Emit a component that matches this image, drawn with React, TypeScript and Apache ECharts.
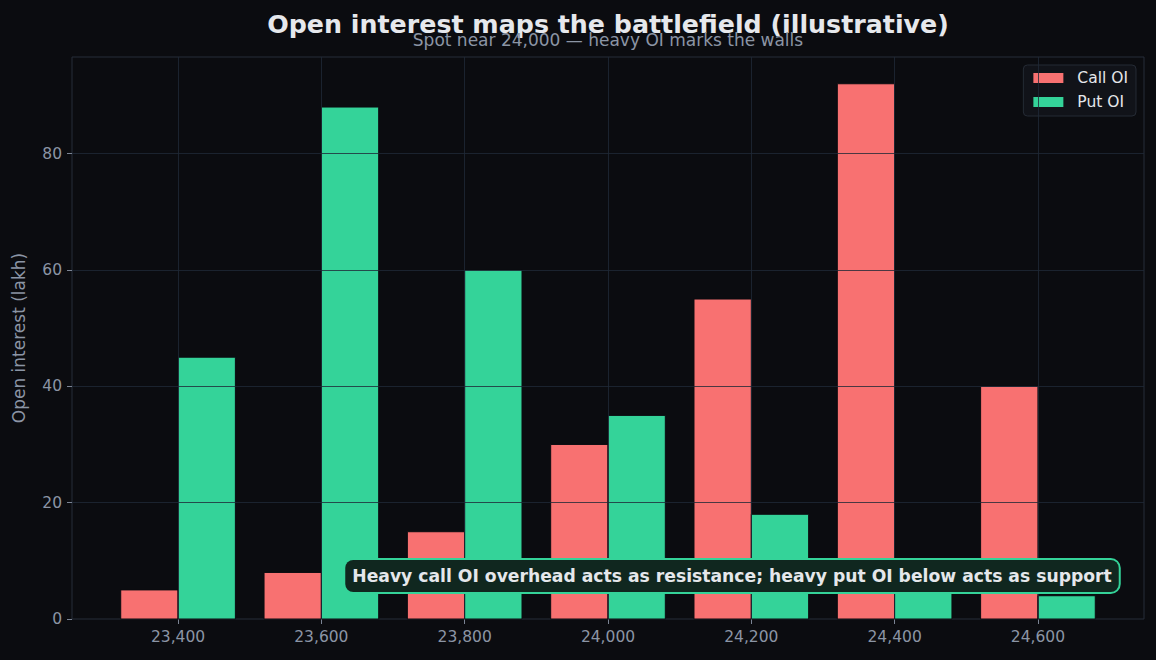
import React, { useEffect, useRef } from "react";
import * as echarts from "echarts";

const strikes = [23400, 23600, 23800, 24000, 24200, 24400, 24600];
const callOI = [5, 8, 15, 30, 55, 92, 40];
const putOI = [45, 88, 60, 35, 18, 8, 4];
const yTicks = [0, 20, 40, 60, 80];

const TITLE = "Open interest maps the battlefield (illustrative)";
const SUBTITLE = "Spot near 24,000 \u2014 heavy OI marks the walls";
const NOTE = "Heavy call OI overhead acts as resistance; heavy put OI below acts as support";

const BG = "#0b0c10";
const CALL = "#f87171";
const PUT = "#34d399";
const FONT = "DejaVu Sans";
const GRIDC = "rgba(31,41,55,0.8)";

export default function App() {
  const ref = useRef<HTMLDivElement>(null);
  useEffect(() => {
    document.body.style.margin = "0";
    document.body.style.background = BG;
    const chart = echarts.init(ref.current!, null, { renderer: "svg" });
    const barSeries = (name: string, vals: number[], color: string, side: number) => ({
      name,
      type: "custom",
      z: 2,
      itemStyle: { color },
      data: strikes.map((s, i) => [s, vals[i]]),
      renderItem: (params: any, api: any) => {
        const x = api.value(0);
        const v = api.value(1);
        const a = api.coord([side < 0 ? x - 80 : x, 0]);
        const b = api.coord([side < 0 ? x : x + 80, v]);
        return {
          type: "rect",
          shape: { x: a[0], y: b[1], width: b[0] - a[0], height: a[1] - b[1] },
          style: { fill: color, stroke: BG, lineWidth: 1 },
        };
      },
    });
    chart.setOption({
      animation: false,
      backgroundColor: BG,
      textStyle: { fontFamily: FONT },
      grid: {
        left: 72,
        right: 12,
        top: 57,
        bottom: 41,
        outerBoundsMode: "none",
        containLabel: false,
        show: true,
        borderColor: "#262d38",
        borderWidth: 1,
        backgroundColor: "transparent",
      },
      legend: {
        right: 20,
        top: 65,
        orient: "vertical",
        icon: "rect",
        itemWidth: 30,
        itemHeight: 10,
        itemGap: 8,
        backgroundColor: "#111319",
        borderColor: "#252b35",
        borderWidth: 1,
        borderRadius: 4,
        padding: [5, 8, 6, 10],
        textStyle: { color: "#e5e7eb", fontSize: 15.5, fontFamily: FONT, padding: [0, 0, 0, 9] },
        data: ["Call OI", "Put OI"],
      },
      xAxis: {
        type: "value",
        min: 23252,
        max: 24748,
        axisLine: { show: false },
        splitLine: { show: false },
        axisTick: {
          show: true,
          customValues: strikes,
          length: 5,
          lineStyle: { color: "#7b8494" },
        },
        axisLabel: {
          customValues: strikes,
          color: "#8b95a5",
          fontSize: 15.5,
          fontFamily: FONT,
          margin: 10,
          formatter: (v: number) => v.toLocaleString("en-US"),
        },
      },
      yAxis: {
        type: "value",
        min: 0,
        max: 96.6,
        name: "Open interest (lakh)",
        nameLocation: "middle",
        nameGap: 45,
        nameTextStyle: { color: "#8b95a5", fontSize: 17, fontFamily: FONT },
        axisLine: { show: false },
        splitLine: { show: false },
        axisTick: {
          show: true,
          customValues: yTicks,
          length: 5,
          lineStyle: { color: "#7b8494" },
        },
        axisLabel: {
          customValues: yTicks,
          color: "#8b95a5",
          fontSize: 15.5,
          fontFamily: FONT,
          margin: 10,
        },
      },
      series: [
        barSeries("Call OI", callOI, CALL, -1),
        barSeries("Put OI", putOI, PUT, 1),
        {
          name: "grid",
          type: "line",
          data: [],
          z: 5,
          silent: true,
          markLine: {
            silent: true,
            symbol: "none",
            label: { show: false },
            lineStyle: { color: GRIDC, width: 1, type: "solid" },
            data: [
              ...strikes.map((s) => ({ xAxis: s })),
              ...yTicks.filter((t) => t > 0).map((t) => ({ yAxis: t })),
            ],
          },
        },
      ],
      graphic: [
        {
          type: "text",
          x: 608,
          y: 24,
          style: {
            text: TITLE,
            font: `bold 25.3px "${FONT}"`,
            fill: "#e6e8ec",
            align: "center",
            verticalAlign: "middle",
          },
        },
        {
          type: "text",
          x: 608,
          y: 40,
          z: 1,
          style: {
            text: SUBTITLE,
            font: `17px "${FONT}"`,
            fill: "#8b95a5",
            align: "center",
            verticalAlign: "middle",
          },
        },
        {
          type: "text",
          x: 732,
          y: 576,
          z: 100,
          style: {
            text: NOTE,
            font: `bold 17.2px "${FONT}"`,
            fill: "#e5e7eb",
            align: "center",
            verticalAlign: "middle",
            backgroundColor: "#10271f",
            borderColor: PUT,
            borderWidth: 2,
            borderRadius: 8,
            padding: [8, 7, 7, 7],
          },
        },
      ],
    });
    return () => chart.dispose();
  }, []);
  return <div ref={ref} style={{ width: 1156, height: 660 }} />;
}
